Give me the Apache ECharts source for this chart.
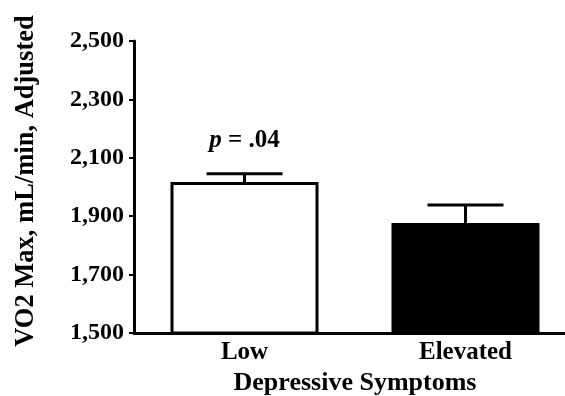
<!DOCTYPE html>
<html>
<head>
<meta charset="utf-8">
<script src="https://cdn.jsdelivr.net/npm/echarts@6/dist/echarts.min.js"></script>
<style>
  html, body { margin: 0; padding: 0; background: #fff; }
  #chart { width: 565px; height: 396px; }
</style>
</head>
<body>
<div id="chart"></div>
<script>
const categories = ["Low", "Elevated"];
const means = [2017, 1877];
const errTops = [2045, 1938];
const notes = ["p = .04", ""];
const yTicks = [1500, 1700, 1900, 2100, 2300, 2500];

const FONT = "'Liberation Serif', 'DejaVu Serif', serif";
const chart = echarts.init(document.getElementById("chart"));

const option = {
  animation: false,
  grid: { left: 134, right: -11, top: 41, bottom: 63, outerBoundsMode: "none", containLabel: false },
  xAxis: {
    type: "category",
    data: categories,
    name: "Depressive Symptoms",
    nameLocation: "middle",
    nameGap: 36,
    nameTextStyle: { fontFamily: FONT, fontWeight: "bold", fontSize: 26, color: "#000" },
    axisLine: { lineStyle: { color: "#000", width: 3 } },
    axisTick: { alignWithLabel: true, length: 4, lineStyle: { color: "#000", width: 2 } },
    axisLabel: { fontFamily: FONT, fontWeight: "bold", fontSize: 25, color: "#000", margin: 7 }
  },
  yAxis: {
    type: "value",
    min: yTicks[0],
    max: yTicks[yTicks.length - 1],
    interval: 200,
    name: "VO2 Max, mL/min, Adjusted",
    nameLocation: "middle",
    nameGap: 94,
    nameTextStyle: { fontFamily: FONT, fontWeight: "bold", fontSize: 26.5, color: "#000", padding: [0, 0, 0, 12] },
    splitLine: { show: false },
    axisLine: { show: true, lineStyle: { color: "#000", width: 3 } },
    axisTick: { show: true, length: 5, lineStyle: { color: "#000", width: 2 } },
    axisLabel: {
      fontFamily: FONT, fontWeight: "bold", fontSize: 24, color: "#000", margin: 10,
      formatter: v => v.toLocaleString("en-US")
    }
  },
  series: [{
    type: "bar",
    data: means.map((v, i) => ({
      value: v,
      itemStyle: i === 0
        ? { color: "#fff", borderColor: "#000", borderWidth: 3 }
        : { color: "#000", borderColor: "#000", borderWidth: 2 }
    })),
    barWidth: 148,
    z: 2
  }, {
    type: "custom",
    z: 3,
    data: categories.map((c, i) => [i, means[i], errTops[i]]),
    renderItem: (params, api) => {
      const base = api.coord([api.value(0), api.value(1)]);
      const top = api.coord([api.value(0), api.value(2)]);
      const half = 38;
      const children = [{
        type: "line",
        shape: { x1: base[0], y1: base[1], x2: top[0], y2: top[1] },
        style: { stroke: "#000", lineWidth: 3 }
      }, {
        type: "line",
        shape: { x1: top[0] - half, y1: top[1], x2: top[0] + half, y2: top[1] },
        style: { stroke: "#000", lineWidth: 3 }
      }];
      const note = notes[params.dataIndex];
      if (note) {
        children.push({
          type: "text",
          x: top[0],
          y: top[1] - 33,
          style: {
            text: "{i|p} = .04",
            align: "center",
            verticalAlign: "middle",
            rich: {
              i: { fontFamily: FONT, fontStyle: "italic", fontWeight: "bold", fontSize: 25, fill: "#000" }
            },
            font: "bold 25px " + FONT,
            fill: "#000"
          }
        });
      }
      return { type: "group", children };
    }
  }]
};

chart.setOption(option);
window.onresize = chart.resize;
</script>
</body>
</html>
